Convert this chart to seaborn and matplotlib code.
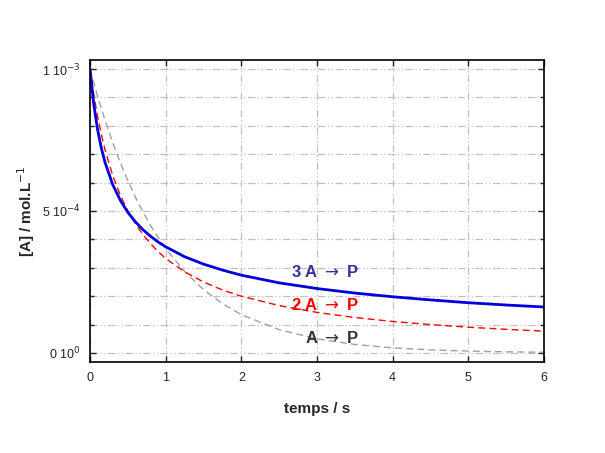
import numpy as np
import pandas as pd
import matplotlib
matplotlib.use("Agg")
import matplotlib.pyplot as plt
import seaborn as sns
from matplotlib.ticker import MultipleLocator, FixedLocator

# time (s)
t = [0, 0.05, 0.1, 0.15, 0.2, 0.3, 0.4, 0.5, 0.6, 0.7, 0.8, 0.9, 1.0,
     1.25, 1.5, 1.75, 2.0, 2.5, 3.0, 3.5, 4.0, 4.5, 5.0, 5.5, 6.0]
# [A] in mol/L
conc_3A = [1.000e-3, 0.875e-3, 0.787e-3, 0.721e-3, 0.670e-3, 0.593e-3, 0.538e-3,
           0.495e-3, 0.462e-3, 0.434e-3, 0.411e-3, 0.391e-3, 0.374e-3, 0.339e-3,
           0.313e-3, 0.292e-3, 0.274e-3, 0.247e-3, 0.227e-3, 0.211e-3, 0.198e-3,
           0.187e-3, 0.177e-3, 0.169e-3, 0.162e-3]
conc_2A = [1.000e-3, 0.909e-3, 0.833e-3, 0.769e-3, 0.714e-3, 0.625e-3, 0.556e-3,
           0.500e-3, 0.455e-3, 0.417e-3, 0.385e-3, 0.357e-3, 0.333e-3, 0.286e-3,
           0.250e-3, 0.222e-3, 0.200e-3, 0.167e-3, 0.143e-3, 0.125e-3, 0.111e-3,
           0.100e-3, 0.0909e-3, 0.0833e-3, 0.0769e-3]
conc_1A = [1.000e-3, 0.951e-3, 0.905e-3, 0.861e-3, 0.819e-3, 0.741e-3, 0.670e-3,
           0.607e-3, 0.549e-3, 0.497e-3, 0.449e-3, 0.407e-3, 0.368e-3, 0.287e-3,
           0.223e-3, 0.174e-3, 0.135e-3, 0.082e-3, 0.050e-3, 0.030e-3, 0.018e-3,
           0.011e-3, 0.0067e-3, 0.0041e-3, 0.0025e-3]

ytick_vals = [0, 5e-4, 1e-3]
ytick_labels = ["0 10$^{0}$", "5 10$^{-4}$", "1 10$^{-3}$"]
xtick_vals = [0, 1, 2, 3, 4, 5, 6]

sns.set_style("white")
plt.rcParams['font.family'] = ['Liberation Sans', 'DejaVu Sans']

fig = plt.figure(figsize=(6.05, 4.53), dpi=100)
ax = fig.add_axes([90/605, 1-362/453, (544-90)/605, (362-60)/453])

gridstyle = dict(color="#c0c0c0", linewidth=0.9, linestyle=(0, (6, 2, 1, 2, 1, 2)))

sns.lineplot(x=t, y=conc_1A, ax=ax, color="#a0a0a0", linewidth=1.0, linestyle=(0, (5, 3)))
sns.lineplot(x=t, y=conc_2A, ax=ax, color="#ff0000", linewidth=1.0, linestyle=(0, (5, 3)))
sns.lineplot(x=t, y=conc_3A, ax=ax, color="#0000dd", linewidth=2.0)

ax.set_xlim(0, 6)
ax.set_ylim(-0.317e-4, 1.0317e-3)
ax.xaxis.set_major_locator(FixedLocator(xtick_vals))
ax.set_xticklabels([str(v) for v in xtick_vals], fontsize=9)
ax.yaxis.set_major_locator(FixedLocator(ytick_vals))
ax.set_yticklabels(ytick_labels, fontsize=9)
ax.yaxis.set_minor_locator(MultipleLocator(1e-4))
ax.grid(True, which="both", axis="y", **gridstyle)
ax.grid(True, which="major", axis="x", **gridstyle)
ax.set_axisbelow(True)
ax.tick_params(which="both", direction="in", top=True, right=True, left=True, bottom=True)
ax.tick_params(which="major", length=4, width=1, pad=7)
ax.tick_params(which="minor", length=3, width=1)
for s in ax.spines.values():
    s.set_color("black")
    s.set_linewidth(1.2)

ax.set_xlabel("temps / s", fontsize=11, fontweight="bold", labelpad=13)
ax.set_ylabel("[A] / mol.L$^{-1}$", fontsize=11, fontweight="bold", labelpad=3)

ax.text(3.1, 0.285e-3, "3 A $\\rightarrow$ P", color="#333399", fontsize=12, fontweight="bold",
        ha="center", va="center")
ax.text(3.1, 0.169e-3, "2 A $\\rightarrow$ P", color="#ff0000", fontsize=12, fontweight="bold",
        ha="center", va="center")
ax.text(3.2, 0.053e-3, "A $\\rightarrow$ P", color="#333333", fontsize=12, fontweight="bold",
        ha="center", va="center")

fig.savefig("out.png", dpi=100)
